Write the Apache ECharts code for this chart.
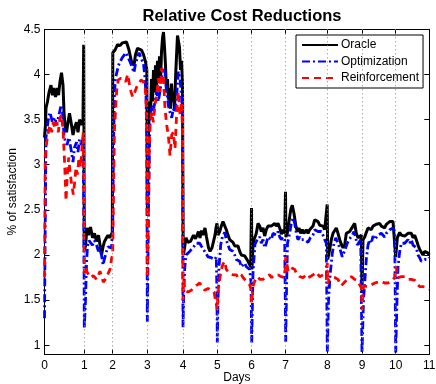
<!DOCTYPE html>
<html>
<head>
<meta charset="utf-8">
<script src="https://cdn.jsdelivr.net/npm/echarts@6/dist/echarts.min.js"></script>
<style>
  html, body { margin: 0; padding: 0; background: #fff; }
  #chart { width: 436px; height: 384px; }
</style>
</head>
<body>
<div id="chart"></div>
<script>
// x is the sample step; day boundaries fall on these steps
const dayPos = [0, 39.8, 68.2, 102.8, 138.5, 172.8, 207.2, 241.2, 282.8, 317.5, 351.2, 384.8];
const dayLabels = ['0', '1', '2', '3', '4', '5', '6', '7', '8', '9', '10', '11'];
const yTicks = [1, 1.5, 2, 2.5, 3, 3.5, 4, 4.5];

// [step, % of satisfaction]
const oracle = [
  [0,3.3],[1,3.45],[1.5,3.63],[3,3.7],[4.5,3.8],[6.5,3.88],[8,3.77],[9.5,3.85],[11,3.75],[13,3.85],[14,3.77],[15.5,3.92],[17,4.02],[18.5,3.88],[19.5,3.58],[20.5,3.44],[22,3.36],[23.5,3.47],[25,3.57],[27,3.44],[28.5,3.33],[30,3.41],[32,3.47],[33.5,3.36],[35,3.5],[37,3.44],[38.5,3.5],[39.2,4.33],[39.8,2.05],
  [41,2.1],[42.5,2.3],[44,2.22],[46,2.31],[48,2.19],[50,2.24],[52,2.15],[54,2.22],[55.5,2.11],[57,2.0],[58.5,2.09],[60,2.15],[62,2.19],[63.5,2.22],[65,2.19],[67,2.2],[67.8,2.25],
  [68.3,4.24],[70.5,4.27],[73,4.33],[75.5,4.32],[78,4.35],[80,4.33],[82,4.36],[84.5,4.27],[87,4.14],[89.5,4.1],[91,4.22],[93,4.29],[95,4.3],[97,4.27],[99,4.22],[101,4.14],[102.3,4.05],
  [102.9,2.5],[104,3.35],[105,3.7],[106,3.55],[107,3.95],[108,3.7],[109,4.05],[110,3.8],[111,4.1],[112,3.85],[113,4.15],[114,3.95],[115,4.2],[116,3.9],[117,4.25],[118,4.4],[119,4.47],[120,4.3],[121,4.1],[122,3.8],[123,3.95],[124,3.72],[125,3.85],[126,3.62],[127,3.9],[128,3.7],[129,3.8],[130,3.6],[131,3.95],[132,4.2],[133,4.43],[134,4.45],[135,4.3],[136,4.05],[137,4.15],[138,3.9],
  [138.7,2.0],[139.5,2.04],[141.5,2.19],[143.5,2.14],[146,2.15],[149,2.22],[151,2.18],[154,2.26],[155.5,2.19],[157,2.27],[158.5,2.22],[160.5,2.3],[162,2.2],[164,2.08],[165.5,2.04],[167.5,2.08],[169,2.06],[170.5,2.22],[171.5,2.3],[172.5,2.35],
  [173.5,2.22],[175.2,2.26],[176.8,2.32],[178.5,2.37],[180.2,2.35],[181.8,2.28],[183.5,2.22],[185.2,2.17],[186.8,2.19],[188.5,2.14],[190.2,2.1],[191.8,2.08],[193.5,2.1],[195.2,2.04],[196.8,2.0],[198.5,2.02],[200.2,1.99],[201.8,1.97],[203.5,1.93],[205.2,1.91],[206.2,1.87],[207.0,2.52],[207.4,1.84],
  [208.5,2.1],[209.5,2.17],[211.8,2.24],[213.5,2.35],[215.2,2.32],[216.8,2.26],[218.5,2.3],[220.2,2.21],[221.8,2.28],[223.5,2.32],[225.2,2.34],[226.8,2.32],[228.5,2.34],[230.2,2.35],[231.8,2.32],[233.5,2.35],[235.2,2.3],[236.8,2.23],[238.5,2.28],[240.2,2.24],[241.0,2.7],[241.4,2.2],
  [242.8,2.24],[244.5,2.37],[246.2,2.5],[247.8,2.55],[249.5,2.46],[251.2,2.33],[252.8,2.26],[254.5,2.3],[256.2,2.24],[257.8,2.28],[259.5,2.24],[261.8,2.28],[263.5,2.24],[265.2,2.28],[266.8,2.3],[268.5,2.32],[270.2,2.39],[271.8,2.41],[273.5,2.37],[275.2,2.33],[276.8,2.35],[278.5,2.32],[280.2,2.28],[281.8,2.26],[282.7,2.56],[283.2,1.95],
  [285.2,2.06],[286.8,2.17],[288.5,2.24],[290.2,2.26],[291.8,2.3],[293.5,2.24],[295.2,2.17],[296.8,2.12],[298.5,2.08],[300.2,2.11],[301.8,2.24],[303.5,2.23],[305.2,2.26],[306.8,2.28],[308.5,2.32],[310.2,2.35],[311.8,2.24],[313.5,2.19],[315.2,2.21],[316.8,2.22],[317.5,1.6],[318.2,2.0],
  [318.5,2.17],[320.2,2.2],[321.8,2.25],[323.5,2.3],[325.2,2.32],[326.8,2.28],[328.5,2.32],[330.2,2.3],[331.8,2.34],[333.5,2.32],[335.2,2.35],[336.8,2.32],[338.5,2.34],[340.2,2.3],[341.8,2.34],[343.5,2.35],[345.2,2.37],[346.8,2.35],[348.5,2.37],[350.2,2.35],[351.2,1.98],
  [352.8,2.19],[355.2,2.25],[356.8,2.22],[358.5,2.24],[360.2,2.21],[361.8,2.22],[363.5,2.24],[365.2,2.26],[366.8,2.24],[368.5,2.19],[370.2,2.22],[371.8,2.17],[373.5,2.11],[375.2,2.06],[376.8,2.04],[378.5,2.0],[380.2,2.04],[381.8,2.02],[383.5,2.02],[384.8,2.0]
];

const optimization = [
  [0,1.3],[0.7,2.3],[1.5,3.3],[4,3.52],[5.5,3.58],[8,3.47],[10.5,3.52],[12,3.44],[14.5,3.55],[16.5,3.66],[18,3.58],[19.5,3.33],[21,3.25],[22.5,3.22],[24.5,3.3],[27,3.14],[28.5,3.03],[30,3.19],[32,3.25],[33.5,3.14],[35,3.28],[37,3.22],[38.5,3.3],[39.3,2.5],[39.8,1.19],
  [41,1.5],[42,1.9],[43,2.1],[44.5,2.16],[46,2.15],[48,2.11],[50,2.16],[52,2.11],[54,2.04],[55.5,2.09],[57,2.0],[58.5,1.89],[60,1.96],[62,2.04],[63.5,2.09],[65,2.11],[67,2.08],
  [68.2,2.3],[69,3.2],[70,3.8],[71,3.96],[74,4.1],[75.5,4.14],[78,4.19],[80,4.17],[81.5,4.24],[83,4.22],[85.5,4.14],[88,4.07],[89.5,4.02],[91,4.12],[93,4.19],[94.5,4.24],[97,4.17],[99,4.12],[100.5,3.96],[101.5,3.77],[102.4,3.2],[102.8,1.26],
  [104,2.5],[105.5,3.52],[107.2,3.66],[108.8,3.6],[110.5,3.7],[112.2,3.81],[113.8,3.7],[115.5,3.81],[117.2,3.96],[118.8,4.07],[120.5,4.03],[122.2,3.81],[123.8,3.66],[125.5,3.58],[127.2,3.52],[128.8,3.62],[130.5,3.58],[132.2,3.77],[133.8,4.03],[135.5,3.96],[137,3.75],[138,3.6],[138.5,1.2],
  [139.2,1.55],[140.2,1.85],[141.5,2.0],[145.2,2.04],[148.5,2.08],[151.8,2.13],[155.2,2.13],[156.8,2.1],[160.2,2.04],[163.5,1.98],[166.8,1.97],[170.2,1.95],[171.8,1.98],[172.4,1.6],[172.8,1.03],
  [173.5,1.5],[174.5,1.87],[176.2,2.11],[177.8,2.2],[180.2,2.25],[181.8,2.17],[183.5,2.11],[185.2,2.06],[186.8,2.08],[188.5,2.04],[190.2,2.0],[191.8,1.95],[193.5,1.97],[195.2,1.93],[196.8,1.87],[200.2,1.91],[201.8,1.87],[203.5,1.86],[205.2,1.84],[206.5,1.7],[207.2,1.03],
  [208.5,1.8],[210.5,2.12],[212.8,2.17],[215.2,2.2],[216.8,2.13],[218.5,2.17],[220.2,2.08],[221.8,2.13],[223.5,2.2],[225.2,2.22],[226.8,2.17],[228.5,2.24],[230.2,2.24],[231.8,2.22],[233.5,2.26],[235.2,2.2],[236.8,2.17],[238.5,2.2],[240.2,2.17],[241.2,1.04],
  [242,1.6],[243,2.13],[245.2,2.24],[246.8,2.35],[248.5,2.41],[250.2,2.35],[251.8,2.24],[253.5,2.17],[255.2,2.2],[256.8,2.17],[258.5,2.19],[260.2,2.17],[261.8,2.19],[263.5,2.14],[265.8,2.19],[268.5,2.22],[270.2,2.28],[271.8,2.3],[273.5,2.26],[275.2,2.24],[276.8,2.26],[278.5,2.22],[280.2,2.17],[281.8,2.13],[282.8,0.93],
  [284,1.5],[285.8,1.8],[287.8,2.02],[289.5,2.13],[291.2,2.19],[292.8,2.17],[294.5,2.1],[296.2,2.04],[297.8,1.98],[299.5,1.99],[301.2,2.08],[302.8,2.13],[304.5,2.17],[306.2,2.19],[307.8,2.22],[309.5,2.26],[311.2,2.19],[312.8,2.11],[314.5,2.13],[316.2,2.17],[317.5,0.92],
  [319,1.5],[321.8,1.95],[323.5,2.11],[325.2,2.17],[326.8,2.13],[328.5,2.21],[330.2,2.17],[331.8,2.19],[333.5,2.22],[335.2,2.2],[336.8,2.24],[338.5,2.22],[340.2,2.2],[341.8,2.24],[343.5,2.26],[345.2,2.28],[346.8,2.26],[348.5,2.3],[350.2,2.26],[351.2,0.92],
  [352.5,1.5],[353.5,1.87],[355.2,2.04],[356.8,2.13],[358.5,2.15],[360.2,2.13],[361.8,2.15],[363.5,2.17],[365.2,2.13],[366.8,2.17],[368.5,2.11],[370.2,2.13],[371.8,2.08],[373.5,2.0],[375.2,1.97],[376.8,1.93],[378.5,1.91],[380.2,1.95],[381.8,1.97],[383.5,1.95],[384.8,1.97]
];

const reinforcement = [
  [0,1.75],[0.7,3.08],[2.2,3.25],[3.8,3.36],[5.5,3.44],[7.2,3.36],[8.8,3.47],[10.5,3.4],[12.2,3.47],[13.8,3.36],[15.5,3.52],[17.2,3.55],[18.8,3.33],[20.2,3.0],[21.5,2.6],[22.8,2.89],[24.2,3.08],[25.5,2.92],[27.2,2.78],[28.8,2.67],[30.2,2.81],[31.5,2.97],[32.8,2.89],[34.5,3.08],[36.2,2.97],[37.8,3.25],[38.8,3.36],[39.4,2.5],[39.8,1.8],
  [40.5,1.87],[42.2,1.82],[45.5,1.75],[48.8,1.77],[52.2,1.73],[55.5,1.82],[57.2,1.8],[58.8,1.7],[60.5,1.68],[62.2,1.75],[63.8,1.8],[65.5,1.84],[67.2,1.97],
  [68.2,2.0],[69,2.7],[70,3.4],[72.2,3.83],[73.8,3.94],[76.5,3.96],[78.8,3.94],[81.2,3.92],[83.2,4.0],[84.8,3.9],[86.5,3.81],[88.2,3.75],[89.8,3.79],[92.2,3.86],[94.5,3.9],[96.5,3.94],[98.8,3.92],[100.5,3.88],[101.5,3.73],[102.4,3.3],[102.8,1.75],
  [104,2.5],[104.8,3.2],[105.5,3.44],[107.2,3.58],[108.8,3.47],[110.5,3.66],[112.2,3.77],[113.8,3.96],[115.5,3.81],[117.2,4.07],[118.8,4.0],[120.5,3.62],[122.2,3.44],[123.8,3.33],[125.5,3.1],[127.2,3.33],[128.8,3.36],[130.5,3.18],[132.2,3.58],[133.8,3.81],[135.5,3.55],[137,3.7],[138,3.4],[138.5,1.5],
  [139,1.72],[140.2,1.61],[143.5,1.59],[146.8,1.61],[150.2,1.65],[152.8,1.67],[155.2,1.69],[157.5,1.65],[160.2,1.61],[163.5,1.63],[166.8,1.61],[169.5,1.59],[171.2,1.61],[172.8,1.39],
  [173.5,1.6],[175.2,1.73],[176.8,1.84],[178.5,1.9],[180.2,1.93],[181.8,1.84],[183.5,1.84],[185.2,1.8],[186.8,1.82],[188.5,1.78],[190.2,1.76],[191.8,1.78],[193.5,1.75],[195.2,1.76],[196.8,1.78],[198.5,1.75],[200.2,1.73],[201.8,1.71],[203.5,1.69],[205.2,1.67],[206.5,1.62],[207.2,1.47],
  [208.5,1.65],[210.2,1.71],[211.8,1.73],[213.5,1.76],[215.2,1.73],[216.8,1.75],[218.5,1.73],[220.2,1.75],[221.8,1.76],[223.5,1.75],[225.2,1.78],[226.8,1.75],[228.5,1.76],[230.2,1.78],[231.8,1.76],[233.5,1.78],[235.2,1.8],[236.8,1.76],[238.5,1.78],[240.2,1.75],[241.2,1.98],
  [241.8,1.95],[243.5,1.82],[245.2,1.84],[246.8,1.86],[248.5,1.84],[250.2,1.84],[251.8,1.8],[253.5,1.78],[255.2,1.76],[256.8,1.78],[258.5,1.75],[260.2,1.76],[261.8,1.78],[263.5,1.75],[265.8,1.76],[268.5,1.78],[270.2,1.8],[271.8,1.81],[273.5,1.8],[275.2,1.76],[276.8,1.76],[278.5,1.78],[280.2,1.76],[281.8,1.73],[282.8,1.91],
  [283.2,1.68],[284.5,1.73],[286.8,1.75],[288.5,1.74],[290.2,1.75],[291.8,1.76],[293.5,1.73],[295.2,1.69],[296.8,1.66],[298.5,1.67],[300.2,1.7],[301.8,1.72],[303.5,1.74],[305.2,1.75],[306.8,1.76],[308.5,1.75],[310.2,1.73],[311.8,1.71],[313.5,1.71],[315.2,1.67],[316.8,1.64],[317.5,1.39],
  [319,1.66],[320.8,1.64],[322.5,1.65],[324.5,1.64],[326.8,1.67],[328.5,1.68],[330.2,1.69],[331.8,1.68],[333.5,1.7],[335.2,1.71],[336.8,1.71],[338.5,1.71],[340.2,1.69],[341.8,1.7],[343.5,1.69],[345.2,1.71],[346.8,1.71],[348.5,1.73],[350.2,1.75],[351.2,1.87],
  [353.5,1.75],[355.2,1.76],[356.8,1.76],[358.5,1.77],[360.2,1.76],[361.8,1.75],[363.5,1.73],[365.2,1.74],[366.8,1.73],[368.5,1.71],[370.2,1.72],[371.8,1.69],[373.5,1.67],[375.2,1.65],[376.8,1.64],[378.5,1.65],[380.2,1.65],[381.8,1.64],[383.5,1.62],[384.8,1.62]
];

const FONT = '"Liberation Sans", Arial, Helvetica, sans-serif';

function dayLabel(v) {
  let best = 0;
  for (let i = 1; i < dayPos.length; i++) {
    if (Math.abs(dayPos[i] - v) < Math.abs(dayPos[best] - v)) best = i;
  }
  return dayLabels[best];
}

const xBase = {
  type: 'value', min: 0, max: dayPos[dayPos.length - 1],
  axisLine: { show: true, onZero: false, lineStyle: { color: '#000', width: 1 } },
  axisTick: { show: true, inside: true, length: 5, customValues: dayPos, lineStyle: { color: '#000' } },
  splitLine: { show: false }
};
const yBase = {
  type: 'value', min: 0.9, max: 4.5,
  axisLine: { show: true, onZero: false, lineStyle: { color: '#000', width: 1 } },
  axisTick: { show: true, inside: true, length: 5, customValues: yTicks, lineStyle: { color: '#000' } },
  splitLine: { show: false }
};

const chart = echarts.init(document.getElementById('chart'), null, { renderer: 'canvas' });
chart.setOption({
  animation: false,
  backgroundColor: '#fff',
  textStyle: { fontFamily: FONT },
  title: {
    text: 'Relative Cost Reductions',
    left: 237, top: 3, textAlign: 'center',
    textStyle: { fontFamily: FONT, fontSize: 16.5, fontWeight: 'bold', color: '#000' }
  },
  grid: { left: 44.5, right: 6.7, top: 29.3, bottom: 29.7, containLabel: false, outerBoundsMode: 'none' },
  legend: {
    data: ['Oracle', 'Optimization', 'Reinforcement'],
    orient: 'vertical', left: 296, top: 35,
    itemWidth: 36, itemHeight: 10, itemGap: 4.5,
    padding: [4, 4, 4, 5],
    borderColor: '#000', borderWidth: 1, borderRadius: 0,
    backgroundColor: '#fff',
    // only the line sample is shown, no marker on it
    itemStyle: { opacity: 0 },
    textStyle: { fontFamily: FONT, fontSize: 12, color: '#000', padding: [0, 0, 0, -2] }
  },
  xAxis: [
    Object.assign({}, xBase, {
      position: 'bottom',
      name: 'Days', nameLocation: 'middle', nameGap: 17, nameMoveOverlap: false,
      nameTextStyle: { fontFamily: FONT, fontSize: 12, color: '#000' },
      axisLabel: { show: true, customValues: dayPos, margin: 5, fontFamily: FONT, fontSize: 12, color: '#000', formatter: dayLabel }
    }),
    Object.assign({}, xBase, { position: 'top', axisLabel: { show: false } })
  ],
  yAxis: [
    Object.assign({}, yBase, {
      position: 'left',
      name: '% of satisfaction', nameLocation: 'middle', nameGap: 26, nameMoveOverlap: false,
      nameTextStyle: { fontFamily: FONT, fontSize: 12, color: '#000' },
      axisLabel: { show: true, customValues: yTicks, margin: 4, fontFamily: FONT, fontSize: 12, color: '#000' }
    }),
    Object.assign({}, yBase, { position: 'right', axisLabel: { show: false } })
  ],
  series: [
    {
      name: 'Oracle', type: 'line', data: oracle, xAxisIndex: 0, yAxisIndex: 0,
      showSymbol: false, symbol: 'none', color: '#000',
      lineStyle: { color: '#000', width: 3, type: 'solid' },
      markLine: {
        silent: true, symbol: 'none', animation: false,
        label: { show: false },
        lineStyle: { color: '#888', width: 1, type: [1, 3] },
        data: dayPos.slice(1, -1).map(v => ({ xAxis: v }))
      },
      z: 2
    },
    {
      name: 'Optimization', type: 'line', data: optimization, xAxisIndex: 0, yAxisIndex: 0,
      showSymbol: false, symbol: 'none', color: '#0000ff',
      lineStyle: { color: '#0000ff', width: 2.8, type: [8, 3, 2, 3] },
      z: 3
    },
    {
      name: 'Reinforcement', type: 'line', data: reinforcement, xAxisIndex: 0, yAxisIndex: 0,
      showSymbol: false, symbol: 'none', color: '#ff0000',
      lineStyle: { color: '#ff0000', width: 2.8, type: [7, 5] },
      z: 4
    }
  ]
});
</script>
</body>
</html>
